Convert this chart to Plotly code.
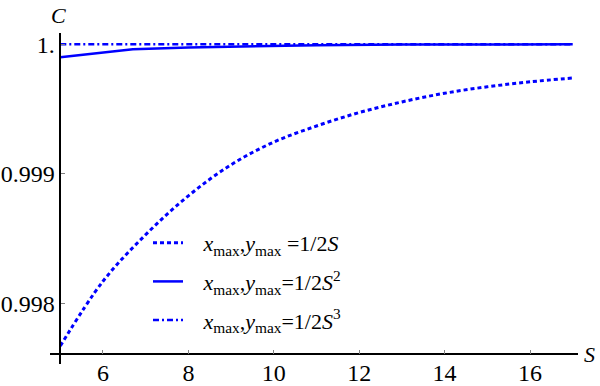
import plotly.graph_objects as go

# values
s_dot = [5, 6, 7, 8, 9, 10, 11, 12, 13, 14, 15, 16, 17]
c_dot = [0.99767, 0.99817, 0.99853, 0.99883, 0.99907, 0.999245, 0.999369,
         0.999473, 0.999555, 0.999622, 0.999672, 0.999710, 0.999740]

s_solid = [5, 6.7, 8, 9.5, 11, 13, 17]
c_solid = [0.99990, 0.999961, 0.999975, 0.999986, 0.999993, 0.999998, 1.0]

s_dashdot = [5, 11, 17]
c_dashdot = [1.0, 1.0, 1.0]

pad = '\u2002\u2009'
names = [pad + '<i>x</i><sub>max</sub>,<i>y</i><sub>max</sub> =1/2<i>S</i>',
         pad + '<i>x</i><sub>max</sub>,<i>y</i><sub>max</sub>=1/2<i>S</i><sup>2</sup>',
         pad + '<i>x</i><sub>max</sub>,<i>y</i><sub>max</sub>=1/2<i>S</i><sup>3</sup>']

x_ticks = [6, 8, 10, 12, 14, 16]
y_ticks = [0.998, 0.999, 1.0]
y_ticktext = ['0.998', '0.999', '1.']

blue = 'rgb(0, 0, 255)'
font = 'Liberation Serif, serif'
tick_font = dict(family=font, size=24, color='black')

fig = go.Figure()

fig.add_trace(go.Scatter(x=s_dot, y=c_dot, mode='lines', name=names[0],
                         legendgroup='a', line_shape='spline',
                         line=dict(color=blue, width=3, dash='4px,3px')))
fig.add_trace(go.Scatter(x=s_solid, y=c_solid, mode='lines', name=names[1],
                         legendgroup='b',
                         line=dict(color=blue, width=2.5)))
fig.add_trace(go.Scatter(x=s_dashdot, y=c_dashdot, mode='lines', name=names[2],
                         legendgroup='c',
                         line=dict(color=blue, width=2.5, dash='6px,3px,2px,3px')))

fig.update_layout(width=600,
                  height=386,
                  margin={"r": 22, "t": 33, "l": 50, "b": 22, "autoexpand": False},
                  autosize=False,
                  plot_bgcolor='white',
                  paper_bgcolor='white',
                  font=dict(family=font, size=24, color='black'),
                  showlegend=True,
                  legend=dict(x=0.1856, y=0.429, xanchor='left', yanchor='top',
                              bgcolor='rgba(0,0,0,0)',
                              tracegroupgap=7,
                              font=dict(family=font, size=22, color='black')),
                  xaxis=dict(range=[4.759, 17.124],
                             anchor='free',
                             position=0.0293,
                             automargin=False,
                             showline=True,
                             linecolor='black',
                             linewidth=1.5,
                             showgrid=False,
                             zeroline=False,
                             tickvals=x_ticks,
                             tickfont=tick_font,
                             ticks='inside',
                             ticklen=4,
                             tickcolor='gray',
                             ticklabelstandoff=-3,
                             title=None),
                  yaxis=dict(range=[0.997531, 1.0000873],
                             anchor='free',
                             position=0.0195,
                             automargin=False,
                             showline=True,
                             linecolor='black',
                             linewidth=1.5,
                             showgrid=False,
                             zeroline=False,
                             tickvals=y_ticks,
                             ticktext=y_ticktext,
                             tickfont=tick_font,
                             ticks='inside',
                             ticklen=4,
                             tickcolor='gray',
                             title=None))

fig.add_annotation(text='<i>C</i>', x=0.0195, y=1.0, xref='paper', yref='paper',
                   xanchor='center', yanchor='middle', xshift=-2, yshift=18,
                   showarrow=False,
                   font=dict(family=font, size=22, color='black'))
fig.add_annotation(text='<i>S</i>', x=1.0, y=0.0293, xref='paper', yref='paper',
                   xanchor='left', yanchor='middle', xshift=4, showarrow=False,
                   font=dict(family=font, size=22, color='black'))

# the page body has a default 8px margin; drop it so the figure sits at 0,0
fig.write_html("out.html", config={'displayModeBar': False},
               post_script="document.body.style.margin='0';")
